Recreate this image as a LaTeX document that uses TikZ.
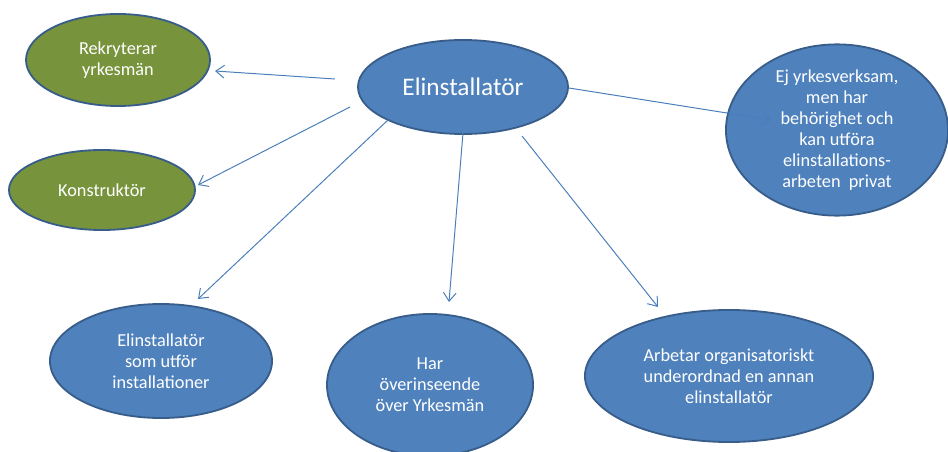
\documentclass[tikz,border=0pt]{standalone}
\usepackage{fontspec}
\setmainfont{Carlito}
\usetikzlibrary{shapes.geometric,arrows.meta}

\definecolor{bubbleblue}{HTML}{4F81BD}
\definecolor{bubblegreen}{HTML}{77933C}
\definecolor{rimblue}{HTML}{385D8A}
\definecolor{pilblue}{HTML}{4A7EBB}

\tikzset{
  bubble/.style={ellipse, draw=rimblue, line width=1.3pt, text=white,
    align=center, inner sep=0pt, font=\fontsize{13}{15}\selectfont},
  bluebubble/.style={bubble, fill=bubbleblue},
  greenbubble/.style={bubble, fill=bubblegreen},
  pil/.style={draw=pilblue, line width=0.7pt, -{Straight Barb[length=6pt,width=9pt]}}
}

\begin{document}
\begin{tikzpicture}[x=0.025cm, y=-0.025cm]
        \useasboundingbox (0,0) rectangle (948,452);

        % mitten
        \node[bluebubble, minimum width=5.25cm, minimum height=2.35cm,
              font=\fontsize{18}{21}\selectfont] (elinst) at (463,87) {Elinstallatör};

        % vänster
        \node[greenbubble, minimum width=4.6cm, minimum height=2.3cm] (rekryt) at (118,60) {Rekryterar\\yrkesmän};
        \node[greenbubble, minimum width=4.65cm, minimum height=2cm] (konstr) at (102,190) {Konstruktör};

        % höger
        \node[bluebubble, minimum width=5.55cm, minimum height=3.9cm] (privat) at (837,130)
            {Ej yrkesverksam,\\men har\\behörighet och\\kan utföra\\elinstallations-\\arbeten\ \ privat};

        % nedre raden
        \node[bluebubble, minimum width=5.55cm, minimum height=2.85cm] (utfor) at (161,361)
            {Elinstallatör\\som utför\\installationer};
        \node[bluebubble, minimum width=5.15cm, minimum height=3.55cm] (overins) at (430,385)
            {Har\\överinseende\\över Yrkesmän};
        \node[bluebubble, minimum width=7.2cm, minimum height=3.3cm] (underord) at (729,376)
            {Arbetar organisatoriskt\\underordnad en annan\\elinstallatör};

        % pilarnas ändpunkter
        \coordinate (s1) at (335,79);  \coordinate (e1) at (215,71);
        \coordinate (s2) at (350,107); \coordinate (e2) at (198,185);
        \coordinate (s3) at (388,120); \coordinate (e3) at (198,299);
        \coordinate (s4) at (463,133); \coordinate (e4) at (449,302);
        \coordinate (s5) at (522,136); \coordinate (e5) at (658,307);
        \coordinate (s6) at (569,88);  \coordinate (e6) at (771,120);

        \draw[pil] (s1) -- (e1);
        \draw[pil] (s2) -- (e2);
        \draw[pil] (s3) -- (e3);
        \draw[pil] (s4) -- (e4);
        \draw[pil] (s5) -- (e5);
        \draw[pil] (s6) -- (e6);

\end{tikzpicture}
\end{document}
